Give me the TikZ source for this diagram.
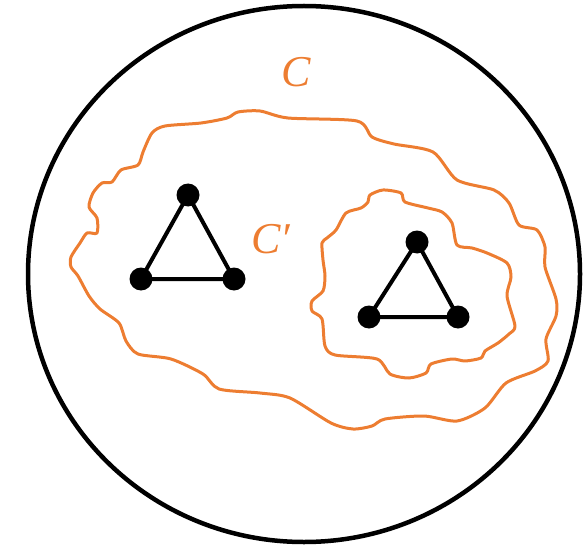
\documentclass[tikz,border=0pt]{standalone}
\usepackage{fontspec}
\newfontfamily\lblfont{Liberation Serif}
\definecolor{korange}{HTML}{ED7D31}
\begin{document}
\begin{tikzpicture}[x=1pt,y=-1pt,
  vtx/.style={circle,fill=black,inner sep=0pt,minimum size=23pt},
  edge/.style={line width=4pt,black},
  region/.style={korange,line width=3pt,line join=round},
  lbl/.style={text=korange,font=\lblfont\itshape\fontsize{44}{44}\selectfont}]
\useasboundingbox (0,0) rectangle (583,556);
% outer big circle
\draw[line width=4.5pt] (304,274) ellipse [x radius=276pt, y radius=268pt];
% region C
\draw[region] plot[smooth cycle,tension=0.45] coordinates {
 (238,112) (260,111) (288,118) (357,121) (372,137) (394,144) (433,152)
 (457,180) (494,190) (509,203) (519,225) (537,230) (545,247) (545,267)
 (556,299) (556,316) (546,339) (548,361) (535,371) (506,383) (485,408)
 (457,421) (424,416) (385,419) (372,426) (353,429) (331,423) (290,398)
 (260,393) (219,389) (203,374) (171,359) (138,354) (126,341) (119,323)
 (100,309) (89,296) (78,276) (71,267) (71,257) (80,243) (87,233) (97,233)
 (97,218) (89,207) (93,193) (102,183) (112,182) (121,170) (138,165)
 (143,152) (152,133) (165,126) (201,123) (227,118)};
% region C'
\draw[region] plot[smooth cycle,tension=0.45] coordinates {
 (370,195) (383,190) (401,193) (405,202) (428,208) (442,212) (452,223)
 (457,245) (472,248) (487,253) (507,263) (511,277) (507,296) (515,326)
 (509,334) (498,343) (485,351) (481,358) (465,361) (452,359) (431,364)
 (426,373) (409,378) (390,374) (377,359) (335,355) (325,346) (322,319)
 (312,311) (312,301) (323,291) (325,276) (323,260) (322,243) (327,238)
 (336,230) (346,213) (361,208) (368,202)};
% labels
\node[lbl] (lc) at (296,72) {C};
\node[lbl] (lcp) at (271,239) {C′};
% left triangle
\node[vtx] (a1) at (188,195) {};
\node[vtx] (a2) at (141,279) {};
\node[vtx] (a3) at (234,279) {};
\draw[edge] (a1.center) -- (a2.center) -- (a3.center) -- cycle;
% right triangle
\node[vtx] (b1) at (417,242) {};
\node[vtx] (b2) at (369,317) {};
\node[vtx] (b3) at (458,317) {};
\draw[edge] (b1.center) -- (b2.center) -- (b3.center) -- cycle;
\end{tikzpicture}
\end{document}
